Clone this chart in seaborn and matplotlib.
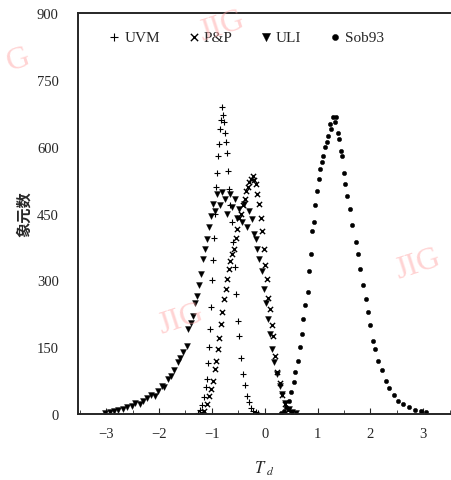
import matplotlib
matplotlib.use("Agg")
import matplotlib.pyplot as plt
import seaborn as sns
import pandas as pd

# UVM (+)
uvm_x = [-1.26, -1.22, -1.18, -1.15, -1.12, -1.10, -1.08, -1.06, -1.04, -1.02,
         -1.00, -0.98, -0.96, -0.94, -0.92, -0.90, -0.88, -0.86, -0.84, -0.82,
         -0.80, -0.79, -0.77, -0.75, -0.73, -0.71, -0.69, -0.67, -0.65, -0.62,
         -0.60, -0.57, -0.54, -0.51, -0.48, -0.45, -0.42, -0.38, -0.34, -0.30,
         -0.26, -0.22, -0.17, -0.12]
uvm_y = [3, 10, 20, 38, 60, 78, 115, 150, 190, 240,
         300, 345, 395, 450, 510, 540, 580, 605, 640, 660,
         690, 672, 655, 630, 610, 585, 545, 505, 470, 430,
         385, 330, 270, 210, 175, 125, 90, 65, 40, 28,
         14, 8, 4, 2]

# P&P (x)
pp_x = [-1.20, -1.15, -1.10, -1.05, -1.02, -0.98, -0.95, -0.92, -0.89, -0.86,
        -0.83, -0.80, -0.77, -0.74, -0.71, -0.68, -0.65, -0.62, -0.58, -0.55,
        -0.52, -0.48, -0.45, -0.41, -0.38, -0.35, -0.32, -0.29, -0.26, -0.23,
        -0.20, -0.17, -0.14, -0.11, -0.08, -0.05, -0.02, 0.01, 0.04, 0.07,
        0.10, 0.13, 0.16, 0.20, 0.24, 0.28, 0.33, 0.38, 0.44, 0.52]
pp_y = [2, 8, 22, 40, 56, 75, 101, 120, 146, 170,
        202, 230, 258, 280, 303, 325, 343, 360, 370, 395,
        415, 440, 449, 470, 482, 500, 509, 520, 527, 534,
        525, 516, 494, 472, 440, 410, 370, 335, 303, 260,
        236, 200, 175, 130, 95, 70, 42, 22, 10, 3]

# ULI (triangles)
uli_x = [-3.02, -2.93, -2.85, -2.78, -2.69, -2.60, -2.52, -2.45, -2.37, -2.30,
         -2.22, -2.15, -2.08, -2.02, -1.95, -1.90, -1.84, -1.77, -1.72, -1.65,
         -1.60, -1.54, -1.48, -1.45, -1.40, -1.36, -1.32, -1.28, -1.24, -1.20,
         -1.17, -1.14, -1.10, -1.06, -1.02, -0.98, -0.94, -0.90, -0.85, -0.81,
         -0.76, -0.71, -0.66, -0.62, -0.57, -0.52, -0.48, -0.43, -0.39, -0.34,
         -0.30, -0.25, -0.21, -0.17, -0.14, -0.10, -0.06, -0.02, 0.02, 0.06,
         0.10, 0.14, 0.18, 0.23, 0.28, 0.33, 0.39, 0.45, 0.52, 0.60]
uli_y = [2, 4, 7, 10, 12, 15, 19, 24, 22, 30,
         36, 42, 40, 52, 63, 60, 78, 85, 100, 117,
         125, 140, 153, 190, 205, 220, 250, 265, 290, 314,
         348, 370, 393, 420, 445, 471, 455, 494, 470, 498,
         482, 450, 494, 465, 482, 440, 460, 430, 471, 420,
         455, 438, 405, 393, 370, 348, 320, 281, 250, 213,
         180, 146, 118, 90, 62, 45, 25, 11, 5, 2]

# Sob93 (dots)
sob_x = [0.30, 0.36, 0.41, 0.45, 0.50, 0.55, 0.58, 0.62, 0.66, 0.70,
         0.73, 0.77, 0.81, 0.84, 0.87, 0.90, 0.93, 0.96, 0.99, 1.02,
         1.05, 1.08, 1.11, 1.14, 1.17, 1.20, 1.23, 1.26, 1.29, 1.32,
         1.35, 1.38, 1.41, 1.44, 1.46, 1.49, 1.52, 1.56, 1.61, 1.66,
         1.72, 1.76, 1.80, 1.86, 1.92, 1.96, 2.00, 2.05, 2.08, 2.15,
         2.22, 2.30, 2.36, 2.44, 2.52, 2.62, 2.72, 2.84, 2.96, 3.05]
sob_y = [3, 6, 15, 30, 50, 72, 95, 120, 150, 180,
         213, 245, 275, 320, 360, 410, 431, 470, 500, 527,
         550, 565, 580, 600, 610, 624, 650, 640, 666, 655,
         666, 630, 617, 590, 579, 540, 516, 490, 460, 425,
         386, 360, 325, 290, 258, 230, 200, 165, 146, 120,
         100, 75, 58, 42, 30, 22, 15, 10, 6, 4]

y_ticks = [0, 150, 300, 450, 600, 750, 900]
x_ticks = [-3, -2, -1, 0, 1, 2, 3]

sns.set_style("ticks")
plt.rcParams['font.family'] = ['Liberation Serif', 'Noto Sans CJK SC']
plt.rcParams['mathtext.fontset'] = 'stix'

fig = plt.figure(figsize=(4.52, 4.81), dpi=100)
ax = fig.add_axes([0.173, 0.137, 0.822, 0.834])

# watermarks
wm = dict(color='#ffa8a8', alpha=0.5, fontsize=23, rotation=18,
          family='Liberation Serif', ha='center', va='center', zorder=0)
fig.text(0.49, 0.945, 'JIG', **wm)
fig.text(0.40, 0.335, 'JIG', **wm)
fig.text(0.925, 0.45, 'JIG', **wm)
fig.text(0.04, 0.875, 'G', **wm)

sns.scatterplot(x=uvm_x, y=uvm_y, marker='+', s=14, color='black',
                linewidth=0.8, label='UVM', ax=ax)
sns.scatterplot(x=pp_x, y=pp_y, marker='x', s=14, color='black',
                linewidth=1.0, label='P&P', ax=ax)
sns.scatterplot(x=uli_x, y=uli_y, marker='v', s=18, color='black',
                edgecolor='black', linewidth=0.3, label='ULI', ax=ax)
sns.scatterplot(x=sob_x, y=sob_y, marker='o', s=10, color='black',
                edgecolor='black', linewidth=0.3, label='Sob93', ax=ax)

ax.set_xlim(-3.53, 3.46)
ax.set_ylim(0, 900)
ax.set_yticks(y_ticks)
ax.set_xticks(x_ticks)
ax.set_xticks([-3.5, -2.5, -1.5, -0.5, 0.5, 1.5, 2.5, 3.5], minor=True)
ax.tick_params(axis='both', which='both', direction='in', labelsize=10.5)
ax.tick_params(axis='x', which='major', length=4, pad=9)
ax.tick_params(axis='x', which='minor', length=3)
ax.tick_params(axis='y', length=0, pad=14)
ax.set_xticklabels(['\u22123', '\u22122', '\u22121', '0', '1', '2', '3'])

for side in ['left', 'bottom', 'top', 'right']:
    ax.spines[side].set_linewidth(1.4)
ax.spines['right'].set_visible(False)

ax.set_xlabel(r'$T_{\ d}$', fontsize=12, labelpad=14)
ax.set_ylabel('象元数', fontsize=11, family=['Noto Sans CJK SC'], fontweight='bold')
ax.yaxis.set_label_coords(-0.125, 0.5)

ax.legend(loc='upper left', bbox_to_anchor=(0.04, 0.99), ncol=4, frameon=False,
          handletextpad=0.15, columnspacing=1.7, markerscale=1.4, fontsize=11,
          handlelength=1.0)

fig.savefig('out.png', dpi=100)
